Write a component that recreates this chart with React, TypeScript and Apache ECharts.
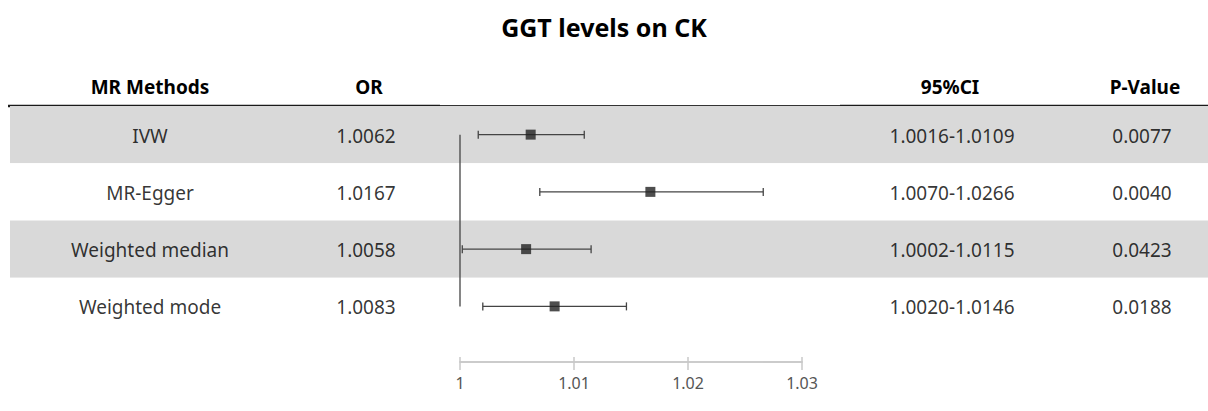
import React, { useEffect, useRef } from "react";
import * as echarts from "echarts";

const title = "GGT levels on CK";
const headers = ["MR Methods", "OR", "95%CI", "P-Value"];
const methods = ["IVW", "MR-Egger", "Weighted median", "Weighted mode"];
const orValues = [1.0062, 1.0167, 1.0058, 1.0083];
const ciLower = [1.0016, 1.007, 1.0002, 1.002];
const ciUpper = [1.0109, 1.0266, 1.0115, 1.0146];
const pValues = ["0.0077", "0.0040", "0.0423", "0.0188"];
const xMin = 1;
const xMax = 1.03;
const xInterval = 0.01;

const FONT = "'Noto Sans', 'Open Sans', sans-serif";
const W = 1208;
const H = 411;
const TABLE_TOP = 106;
const TABLE_H = 229;
const headerX = [150, 369, 950, 1145];
const colX = [150, 366, 952, 1142];
const headerY = 87;

export default function App() {
  const ref = useRef<HTMLDivElement>(null);
  useEffect(() => {
    if (!ref.current) return;
    const chart = echarts.init(ref.current, undefined, { renderer: "svg" });
    const ciText = ciLower.map((l, i) => `${l.toFixed(4)}-${ciUpper[i].toFixed(4)}`);
    const orText = orValues.map((v) => v.toFixed(4));
    const columns = [methods, orText, ciText, pValues];

    const tableSeries = columns.map((col, c) => ({
      type: "scatter",
      xAxisIndex: 0,
      yAxisIndex: 0,
      silent: true,
      symbolSize: 0,
      z: 5,
      data: col.map((txt, i) => [colX[c], methods[i], txt]),
      label: {
        show: true,
        position: "inside",
        formatter: (p: any) => p.data[2],
        fontSize: 19,
        color: "#000",
        fontFamily: FONT,
        offset: [0, 1],
      },
    }));

    const axisCommon = {
      type: "value",
      gridIndex: 1,
      min: xMin,
      max: xMax,
      interval: xInterval,
      position: "bottom",
      offset: 27,
      splitLine: { show: false },
    };

    chart.setOption({
      animation: false,
      textStyle: { fontFamily: FONT },
      title: {
        text: title,
        left: "center",
        top: 9,
        textStyle: { fontSize: 25, fontWeight: "bold", color: "#000", fontFamily: FONT },
      },
      grid: [
        { left: 10, right: 0, top: TABLE_TOP, height: TABLE_H },
        { left: 460, width: 342, top: TABLE_TOP, height: TABLE_H },
      ],
      xAxis: [
        { type: "value", gridIndex: 0, min: 10, max: W, show: false },
        {
          ...axisCommon,
          axisLine: { show: true, lineStyle: { color: "#c8c8c8", width: 1.5 } },
          axisTick: { show: true, length: 8, lineStyle: { color: "#c8c8c8", width: 1.5 } },
          axisLabel: {
            show: true,
            fontSize: 16,
            color: "#555",
            margin: 13,
            fontFamily: FONT,
            formatter: (v: number) => String(Math.round(v * 100) / 100),
          },
        },
        {
          ...axisCommon,
          axisLine: { show: true, lineStyle: { color: "#c8c8c8", width: 1.5 } },
          axisTick: { show: true, inside: true, length: 5, lineStyle: { color: "#c8c8c8", width: 1.5 } },
          axisLabel: { show: false },
        },
      ],
      yAxis: [
        {
          type: "category",
          gridIndex: 0,
          data: methods,
          inverse: true,
          axisLine: { show: false },
          axisTick: { show: false },
          axisLabel: { show: false },
          splitLine: { show: false },
          splitArea: { show: true, areaStyle: { color: ["#d9d9d9", "#ffffff"] } },
        },
        {
          type: "category",
          gridIndex: 1,
          data: methods,
          inverse: true,
          show: false,
        },
      ],
      graphic: [
        ...headers.map((h, i) => ({
          type: "text",
          x: headerX[i],
          y: headerY,
          style: {
            text: h,
            fontSize: 19,
            fontWeight: "bold",
            fontFamily: FONT,
            fill: "#000",
            textAlign: "center",
            textVerticalAlign: "middle",
          },
        })),
        { type: "line", shape: { x1: 8, y1: 106, x2: 440, y2: 106 }, style: { stroke: "#1a1a1a", lineWidth: 2.5 } },
        { type: "line", shape: { x1: 440, y1: 106, x2: 840, y2: 106 }, style: { stroke: "#333", lineWidth: 1.8 } },
        { type: "line", shape: { x1: 840, y1: 106, x2: W, y2: 106 }, style: { stroke: "#1a1a1a", lineWidth: 2.5 } },
      ],
      series: [
        ...tableSeries,
        {
          type: "line",
          xAxisIndex: 1,
          yAxisIndex: 1,
          silent: true,
          symbol: "none",
          z: 3,
          lineStyle: { color: "#444", width: 1.3 },
          data: [
            [1, methods[0]],
            [1, methods[methods.length - 1]],
          ],
        },
        {
          type: "custom",
          xAxisIndex: 1,
          yAxisIndex: 1,
          silent: true,
          z: 4,
          encode: { x: [0, 1], y: 2 },
          data: methods.map((m, i) => [ciLower[i], ciUpper[i], i]),
          renderItem: (params: any, api: any) => {
            const yi = api.value(2);
            const p1 = api.coord([api.value(0), yi]);
            const p2 = api.coord([api.value(1), yi]);
            const cap = 4;
            const st = { stroke: "#444", lineWidth: 1.3 };
            return {
              type: "group",
              children: [
                { type: "line", shape: { x1: p1[0], y1: p1[1], x2: p2[0], y2: p2[1] }, style: st },
                { type: "line", shape: { x1: p1[0], y1: p1[1] - cap, x2: p1[0], y2: p1[1] + cap }, style: st },
                { type: "line", shape: { x1: p2[0], y1: p2[1] - cap, x2: p2[0], y2: p2[1] + cap }, style: st },
              ],
            };
          },
        },
        {
          type: "scatter",
          xAxisIndex: 1,
          yAxisIndex: 1,
          silent: true,
          z: 6,
          symbol: "rect",
          symbolSize: 10,
          itemStyle: { color: "#222" },
          data: orValues.map((v, i) => [v, methods[i]]),
        },
      ],
    });
    return () => chart.dispose();
  }, []);
  return (
    <div
      ref={ref}
      style={{ position: "absolute", left: 0, top: 0, width: W, height: H, background: "#fff" }}
    />
  );
}
